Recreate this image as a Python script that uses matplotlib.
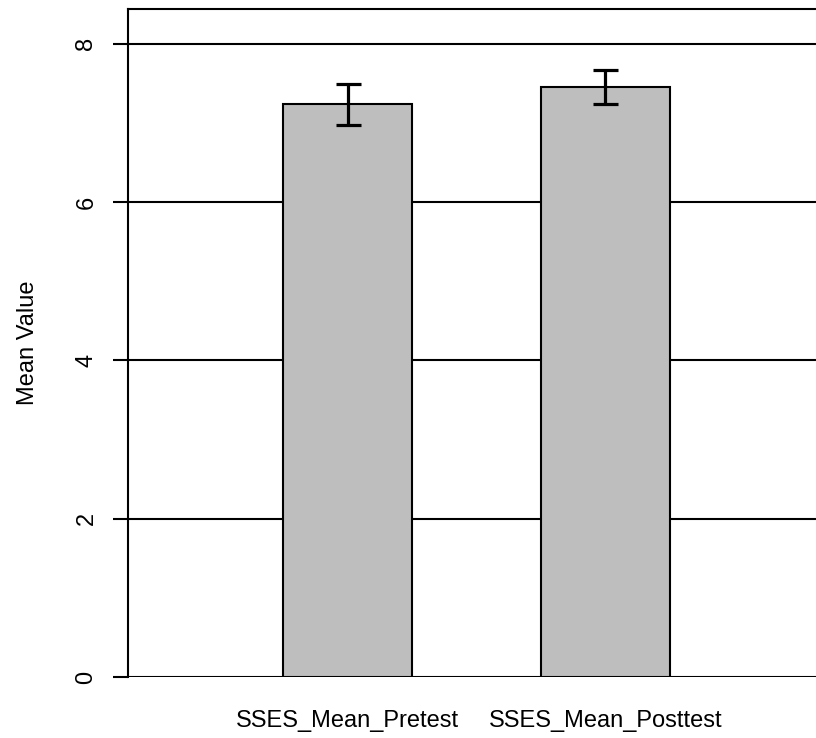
import matplotlib
matplotlib.use("Agg")
import matplotlib.pyplot as plt

categories = ["SSES_Mean_Pretest", "SSES_Mean_Posttest"]
means = [7.24, 7.46]
err_low = [6.98, 7.24]
err_high = [7.49, 7.67]
yticks = [0, 2, 4, 6, 8]

plt.rcParams["font.family"] = ["Liberation Sans", "DejaVu Sans"]

fig = plt.figure(figsize=(8.16, 7.38), dpi=100)
W, H = 816, 738
ax = fig.add_axes([128 / W, 1 - 677 / H, 1 - 128 / W, (677 - 9) / H])

x = [1, 2]
for yv in yticks:
    ax.axhline(yv, color="black", lw=1.5, zorder=1)

ax.bar(x, means, width=0.5, color="#bebebe", edgecolor="black", linewidth=1.5, zorder=2)
yerr = [[m - lo for m, lo in zip(means, err_low)], [hi - m for m, hi in zip(means, err_high)]]
ax.errorbar(x, means, yerr=yerr, fmt="none", ecolor="black", elinewidth=2.3,
            capsize=9, capthick=2.3, zorder=3)

ax.set_xlim(0.149, 2.816)
ax.set_ylim(0, 8.44)
ax.set_yticks(yticks)
ax.set_yticklabels([str(v) for v in yticks], rotation=90, va="center", fontsize=17)
ax.tick_params(axis="y", length=11, width=1.5, pad=11)
ax.set_xticks(x)
ax.set_xticklabels(categories, fontsize=17)
ax.tick_params(axis="x", length=0, pad=24)
ax.set_ylabel("Mean Value", fontsize=17, labelpad=26)

ax.spines["right"].set_visible(False)
ax.spines["bottom"].set_visible(False)
for s in ("left", "top"):
    ax.spines[s].set_linewidth(1.5)

fig.savefig("out.png", dpi=100)
